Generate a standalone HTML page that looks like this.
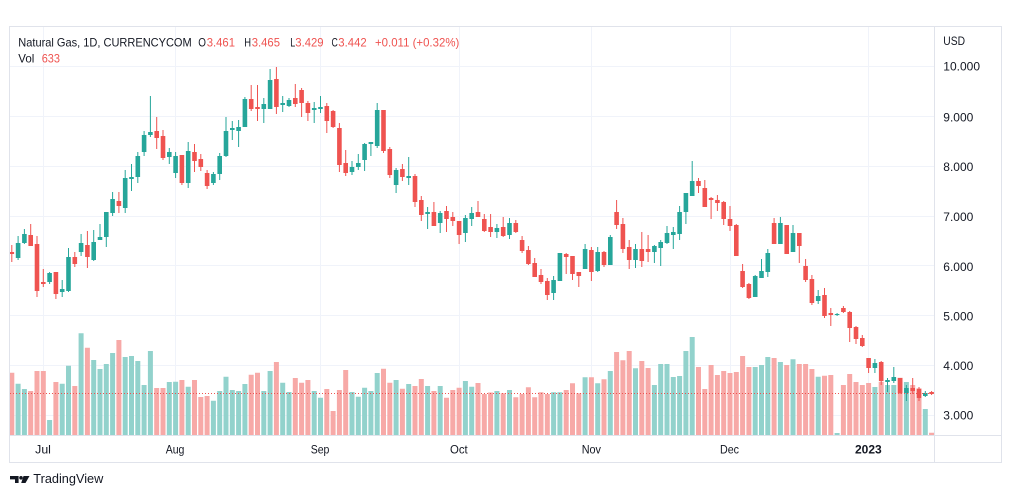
<!DOCTYPE html>
<html><head><meta charset="utf-8"><style>
html,body{margin:0;padding:0;background:#fff;width:1012px;height:498px;overflow:hidden}
svg{display:block}
text{font-family:"Liberation Sans",Arial,sans-serif}
</style></head><body>
<svg width="1012" height="498" viewBox="0 0 1012 498" xmlns="http://www.w3.org/2000/svg">
<defs><clipPath id="pc"><rect x="10" y="27" width="924" height="408"/></clipPath></defs>
<rect x="0" y="0" width="1012" height="498" fill="#fff"/>
<!-- grid -->
<g fill="#f0f3fa">
<rect x="10" y="66" width="924" height="1"/><rect x="10" y="116" width="924" height="1"/><rect x="10" y="166" width="924" height="1"/><rect x="10" y="216" width="924" height="1"/><rect x="10" y="265" width="924" height="1"/><rect x="10" y="315" width="924" height="1"/><rect x="10" y="365" width="924" height="1"/><rect x="10" y="415" width="924" height="1"/>
<rect x="43" y="27" width="1" height="408"/><rect x="175" y="27" width="1" height="408"/><rect x="320" y="27" width="1" height="408"/><rect x="459" y="27" width="1" height="408"/><rect x="591" y="27" width="1" height="408"/><rect x="730" y="27" width="1" height="408"/><rect x="868" y="27" width="1" height="408"/>
</g>
<g clip-path="url(#pc)">
<!-- volume green -->
<path fill="#92d2cc" d="M15.6 435V383.7h5V435zM21.9 435V389h5V435zM47.1 435V420h5V435zM59.7 435V383.7h5V435zM66 435V365.7h5V435zM78.6 435V333.3h5V435zM91.2 435V360h5V435zM97.5 435V369h5V435zM103.8 435V364h5V435zM110.1 435V353h5V435zM122.7 435V357h5V435zM129 435V356h5V435zM135.3 435V361h5V435zM141.6 435V385h5V435zM147.9 435V351h5V435zM166.8 435V382h5V435zM173.1 435V381.7h5V435zM185.7 435V386.7h5V435zM210.9 435V400.7h5V435zM217.2 435V391h5V435zM223.5 435V376.7h5V435zM229.8 435V390h5V435zM236.1 435V391h5V435zM242.4 435V384h5V435zM261.3 435V391h5V435zM267.6 435V371h5V435zM280.2 435V382.7h5V435zM286.5 435V392h5V435zM311.7 435V391h5V435zM318 435V397.7h5V435zM349.5 435V392h5V435zM355.8 435V396.7h5V435zM362.1 435V387.7h5V435zM368.4 435V391h5V435zM374.7 435V373h5V435zM393.6 435V380h5V435zM406.2 435V384h5V435zM425.1 435V386h5V435zM437.7 435V386h5V435zM462.9 435V381h5V435zM469.2 435V386.7h5V435zM494.4 435V391h5V435zM507 435V390h5V435zM551.1 435V392.3h5V435zM557.4 435V392.3h5V435zM582.6 435V377.3h5V435zM595.2 435V383.3h5V435zM607.8 435V371h5V435zM633 435V368.3h5V435zM651.9 435V385h5V435zM658.2 435V364h5V435zM664.5 435V364h5V435zM670.8 435V377h5V435zM677.1 435V376h5V435zM683.4 435V351h5V435zM689.7 435V337h5V435zM752.7 435V367h5V435zM759 435V365h5V435zM765.3 435V357h5V435zM777.9 435V362h5V435zM790.5 435V359.3h5V435zM815.7 435V376.7h5V435zM834.6 435V433h5V435zM872.4 435V387h5V435zM885 435V385h5V435zM891.3 435V385h5V435zM903.9 435V382h5V435zM922.8 435V409h5V435z"/>
<!-- volume red -->
<path fill="#f7a9a7" d="M9.3 435V372.7h5V435zM28.2 435V391h5V435zM34.5 435V371h5V435zM40.8 435V371h5V435zM53.4 435V382h5V435zM72.3 435V386h5V435zM84.9 435V347.7h5V435zM116.4 435V340h5V435zM154.2 435V388h5V435zM160.5 435V388h5V435zM179.4 435V380h5V435zM192 435V380h5V435zM198.3 435V397h5V435zM204.6 435V396h5V435zM248.7 435V374.7h5V435zM255 435V372.7h5V435zM273.9 435V362h5V435zM292.8 435V378h5V435zM299.1 435V382.7h5V435zM305.4 435V380h5V435zM324.3 435V389h5V435zM330.6 435V411h5V435zM336.9 435V390h5V435zM343.2 435V370h5V435zM381 435V368.7h5V435zM387.3 435V382.7h5V435zM399.9 435V388.7h5V435zM412.5 435V386h5V435zM418.8 435V379h5V435zM431.4 435V391h5V435zM444 435V397.7h5V435zM450.3 435V390h5V435zM456.6 435V387.7h5V435zM475.5 435V383h5V435zM481.8 435V394h5V435zM488.1 435V392.5h5V435zM500.7 435V393.3h5V435zM513.3 435V397.3h5V435zM519.6 435V394h5V435zM525.9 435V387.3h5V435zM532.2 435V397.3h5V435zM538.5 435V392.3h5V435zM544.8 435V394h5V435zM563.7 435V390h5V435zM570 435V383.3h5V435zM576.3 435V393.3h5V435zM588.9 435V377.3h5V435zM601.5 435V379.3h5V435zM614.1 435V352h5V435zM620.4 435V360.3h5V435zM626.7 435V351h5V435zM639.3 435V361h5V435zM645.6 435V368h5V435zM696 435V367h5V435zM702.3 435V389h5V435zM708.6 435V365h5V435zM714.9 435V375h5V435zM721.2 435V371h5V435zM727.5 435V373h5V435zM733.8 435V372h5V435zM740.1 435V356h5V435zM746.4 435V367h5V435zM771.6 435V358h5V435zM784.2 435V365h5V435zM796.8 435V364h5V435zM803.1 435V364h5V435zM809.4 435V369h5V435zM822 435V375.7h5V435zM828.3 435V375h5V435zM840.9 435V385h5V435zM847.2 435V374h5V435zM853.5 435V382h5V435zM859.8 435V385h5V435zM866.1 435V383h5V435zM878.7 435V381.7h5V435zM897.6 435V377.7h5V435zM910.2 435V385h5V435zM916.5 435V388.3h5V435zM929.1 435V432.7h5V435z"/>
<!-- green wicks -->
<path stroke="#26a69a" stroke-width="1" fill="none" d="M18.1 236V260M24.4 229V244M49.6 272V284M62.2 280V297M68.5 248V292M81.1 234V256M93.7 230V261M100 224V240M106.3 212V247M112.6 192V216M125.2 170V213M131.5 164V191M137.8 152V183M144.1 131V156M150.4 96V137M169.3 148V164M175.6 152V178M188.2 142V188M213.4 172V185M219.7 153V180M226 117V157M232.3 121V140M238.6 120V147M244.9 97V127M263.8 98V123M270.1 69V109M282.7 96V112M289 98V107M314.2 102V123M320.5 96V113M352 161V175M358.3 154V170M364.6 143V171M370.9 142V156M377.2 103V148M396.1 168V193M408.7 157V185M427.6 207V229M440.2 211V233M465.4 215V242M471.7 207V226M496.9 224V238M509.5 218V239M553.6 276V300M559.9 253V281M585.1 244V269M597.7 247V272M610.3 235V265M635.5 244V268M654.4 245V263M660.7 240V266M667 226V244M673.3 227V249M679.6 206V240M685.9 193V224M692.2 161V196M755.2 275V297M761.5 259V278M767.8 249V277M780.4 217V244M793 225V252M818.2 290V304M837.1 313V316M874.9 359V373M887.5 378V392M893.8 367V383M906.4 385V401M925.3 391V397"/>
<!-- green bodies -->
<path fill="#26a69a" d="M15.8 243h4.6V258h-4.6zM22.1 234h4.6V243h-4.6zM47.3 273h4.6V282h-4.6zM59.9 289h4.6V292h-4.6zM66.2 257h4.6V291h-4.6zM78.8 243h4.6V252h-4.6zM91.4 242h4.6V260h-4.6zM97.7 237h4.6V240h-4.6zM104 212h4.6V237h-4.6zM110.3 199h4.6V213h-4.6zM122.9 178h4.6V208h-4.6zM129.2 177h4.6V179h-4.6zM135.5 156h4.6V177h-4.6zM141.8 135h4.6V152h-4.6zM148.1 132h4.6V135h-4.6zM167 152h4.6V157h-4.6zM173.3 156h4.6V173h-4.6zM185.9 151h4.6V183h-4.6zM211.1 174h4.6V183h-4.6zM217.4 156h4.6V174h-4.6zM223.7 131h4.6V156h-4.6zM230 128h4.6V130h-4.6zM236.3 127h4.6V131h-4.6zM242.6 99h4.6V127h-4.6zM261.5 104h4.6V109h-4.6zM267.8 80h4.6V109h-4.6zM280.4 103h4.6V105h-4.6zM286.7 100h4.6V106h-4.6zM311.9 108h4.6V110h-4.6zM318.2 107h4.6V109h-4.6zM349.7 167h4.6V172h-4.6zM356 163h4.6V167h-4.6zM362.3 144h4.6V160h-4.6zM368.6 142h4.6V144h-4.6zM374.9 110h4.6V146h-4.6zM393.8 170h4.6V185h-4.6zM406.4 176h4.6V178h-4.6zM425.3 212h4.6V214h-4.6zM437.9 213h4.6V223h-4.6zM463.1 218h4.6V233h-4.6zM469.4 213h4.6V219h-4.6zM494.6 228h4.6V232h-4.6zM507.2 223h4.6V235h-4.6zM551.3 280h4.6V293h-4.6zM557.6 253h4.6V281h-4.6zM582.8 249h4.6V269h-4.6zM595.4 252h4.6V271h-4.6zM608 237h4.6V265h-4.6zM633.2 249h4.6V260h-4.6zM652.1 246h4.6V252h-4.6zM658.4 242h4.6V248h-4.6zM664.7 233h4.6V243h-4.6zM671 232h4.6V235h-4.6zM677.3 212h4.6V234h-4.6zM683.6 193h4.6V212h-4.6zM689.9 181h4.6V196h-4.6zM752.9 276h4.6V297h-4.6zM759.2 271h4.6V278h-4.6zM765.5 253h4.6V272h-4.6zM778.1 223h4.6V244h-4.6zM790.7 233h4.6V252h-4.6zM815.9 296h4.6V301h-4.6zM834.8 314h4.6V315h-4.6zM872.6 363h4.6V368h-4.6zM885.2 380h4.6V382h-4.6zM891.5 377h4.6V381h-4.6zM904.1 388h4.6V393h-4.6zM923 393h4.6V396h-4.6z"/>
<!-- red wicks -->
<path stroke="#ef5350" stroke-width="1" fill="none" d="M11.8 245V262M30.7 224V246M37 236V297M43.3 269V287M55.9 272V299M74.8 252V267M87.4 231V268M118.9 192V213M156.7 117V149M163 130V160M181.9 155V185M194.5 144V172M200.8 154V171M207.1 170V189M251.2 85V111M257.5 85V121M276.4 67V114M295.3 84V107M301.6 88V117M307.9 101V121M326.8 103V133M333.1 110V128M339.4 123V172M345.7 150V176M383.5 110V153M389.8 147V178M402.4 164V181M415 174V207M421.3 196V221M433.9 202V226M446.5 206V232M452.8 212V226M459.1 221V244M478 201V217M484.3 214V232M490.6 214V237M503.2 217V237M515.8 220V233M522.1 236V253M528.4 246V265M534.7 258V277M541 269V284M547.3 278V300M566.2 253V274M572.5 256V280M578.8 272V287M591.4 247V281M604 251V267M616.6 200V229M622.9 218V253M629.2 240V269M641.8 232V267M648.1 235V262M698.5 178V193M704.8 180V207M711.1 197V219M717.4 195V211M723.7 201V225M730 206V231M736.3 224V256M742.6 264V288M748.9 283V299M774.1 218V244M786.7 225V254M799.3 233V263M805.6 259V282M811.9 275V305M824.5 288V318M830.8 308V326M843.4 306V313M849.7 311V342M856 326V344M862.3 335V347M868.6 358V373M881.2 361V385M900.1 378V394M912.7 378V394M919 387V401M931.6 391V395"/>
<!-- red bodies -->
<path fill="#ef5350" d="M9.5 252h4.6V254h-4.6zM28.4 235h4.6V246h-4.6zM34.7 244h4.6V291h-4.6zM41 282h4.6V284h-4.6zM53.6 272h4.6V294h-4.6zM72.5 257h4.6V264h-4.6zM85.1 245h4.6V257h-4.6zM116.6 201h4.6V206h-4.6zM154.4 131h4.6V138h-4.6zM160.7 136h4.6V158h-4.6zM179.6 155h4.6V183h-4.6zM192.2 152h4.6V161h-4.6zM198.5 159h4.6V167h-4.6zM204.8 173h4.6V186h-4.6zM248.9 99h4.6V109h-4.6zM255.2 107h4.6V109h-4.6zM274.1 79h4.6V107h-4.6zM293 98h4.6V104h-4.6zM299.3 90h4.6V103h-4.6zM305.6 103h4.6V113h-4.6zM324.5 106h4.6V121h-4.6zM330.8 111h4.6V127h-4.6zM337.1 128h4.6V165h-4.6zM343.4 163h4.6V173h-4.6zM381.2 110h4.6V151h-4.6zM387.5 149h4.6V175h-4.6zM400.1 169h4.6V177h-4.6zM412.7 176h4.6V202h-4.6zM419 200h4.6V215h-4.6zM431.6 212h4.6V226h-4.6zM444.2 211h4.6V219h-4.6zM450.5 217h4.6V221h-4.6zM456.8 221h4.6V235h-4.6zM475.7 212h4.6V217h-4.6zM482 219h4.6V231h-4.6zM488.3 227h4.6V232h-4.6zM500.9 227h4.6V236h-4.6zM513.5 223h4.6V232h-4.6zM519.8 240h4.6V251h-4.6zM526.1 250h4.6V264h-4.6zM532.4 263h4.6V277h-4.6zM538.7 275h4.6V282h-4.6zM545 281h4.6V295h-4.6zM563.9 254h4.6V257h-4.6zM570.2 256h4.6V274h-4.6zM576.5 272h4.6V276h-4.6zM589.1 250h4.6V272h-4.6zM601.7 252h4.6V265h-4.6zM614.3 212h4.6V225h-4.6zM620.6 224h4.6V249h-4.6zM626.9 247h4.6V260h-4.6zM639.5 249h4.6V261h-4.6zM645.8 249h4.6V252h-4.6zM696.2 181h4.6V186h-4.6zM702.5 188h4.6V207h-4.6zM708.8 198h4.6V200h-4.6zM715.1 200h4.6V203h-4.6zM721.4 202h4.6V219h-4.6zM727.7 219h4.6V226h-4.6zM734 225h4.6V256h-4.6zM740.3 271h4.6V287h-4.6zM746.6 284h4.6V298h-4.6zM771.8 223h4.6V244h-4.6zM784.4 225h4.6V254h-4.6zM797 233h4.6V246h-4.6zM803.3 266h4.6V280h-4.6zM809.6 279h4.6V303h-4.6zM822.2 295h4.6V316h-4.6zM828.5 313h4.6V315h-4.6zM841.1 308h4.6V312h-4.6zM847.4 312h4.6V328h-4.6zM853.7 327h4.6V339h-4.6zM860 338h4.6V346h-4.6zM866.3 358h4.6V368h-4.6zM878.9 362h4.6V381h-4.6zM897.8 378h4.6V393h-4.6zM910.4 388h4.6V391h-4.6zM916.7 389h4.6V398h-4.6zM929.3 392h4.6V394h-4.6z"/>
<!-- last price line -->
<line x1="10" y1="393.5" x2="934" y2="393.5" stroke="#ef5350" stroke-width="1" stroke-dasharray="1 2"/>
</g>
<!-- frame & axes -->
<rect x="9.5" y="26.5" width="992" height="436" fill="none" stroke="#e0e3eb" stroke-width="1"/>
<line x1="934.5" y1="26" x2="934.5" y2="463" stroke="#e0e3eb" stroke-width="1"/>
<line x1="9" y1="435.5" x2="1002" y2="435.5" stroke="#e0e3eb" stroke-width="1"/>
<!-- legend -->
<g font-size="12" fill="#131722">
<text x="18.3" y="46.7" textLength="173.4" lengthAdjust="spacingAndGlyphs">Natural Gas, 1D, CURRENCYCOM</text>
<text x="198.3" y="46.7" textLength="7.7" lengthAdjust="spacingAndGlyphs">O</text>
<text x="244.3" y="46.7" textLength="6.8" lengthAdjust="spacingAndGlyphs">H</text>
<text x="290.3" y="46.7" textLength="5" lengthAdjust="spacingAndGlyphs">L</text>
<text x="331.5" y="46.7" textLength="6.3" lengthAdjust="spacingAndGlyphs">C</text>
<text x="18.3" y="62.7" textLength="16" lengthAdjust="spacingAndGlyphs">Vol</text>
</g>
<g font-size="12" fill="#ef5350">
<text x="206.7" y="46.7" textLength="28.3" lengthAdjust="spacingAndGlyphs">3.461</text>
<text x="251.7" y="46.7" textLength="28.3" lengthAdjust="spacingAndGlyphs">3.465</text>
<text x="295.3" y="46.7" textLength="28.3" lengthAdjust="spacingAndGlyphs">3.429</text>
<text x="338.3" y="46.7" textLength="28.4" lengthAdjust="spacingAndGlyphs">3.442</text>
<text x="375" y="46.7" textLength="84.3" lengthAdjust="spacingAndGlyphs">+0.011 (+0.32%)</text>
<text x="41.7" y="62.7" textLength="18.3" lengthAdjust="spacingAndGlyphs">633</text>
</g>
<!-- price axis -->
<g font-size="12" fill="#131722">
<text x="943.3" y="45" textLength="21.7" lengthAdjust="spacingAndGlyphs">USD</text>
<text x="943.3" y="70.5" textLength="36.7" lengthAdjust="spacingAndGlyphs">10.000</text>
<text x="943.3" y="121.3" textLength="30" lengthAdjust="spacingAndGlyphs">9.000</text>
<text x="943.3" y="171" textLength="30" lengthAdjust="spacingAndGlyphs">8.000</text>
<text x="943.3" y="221" textLength="30" lengthAdjust="spacingAndGlyphs">7.000</text>
<text x="943.3" y="270.8" textLength="30" lengthAdjust="spacingAndGlyphs">6.000</text>
<text x="943.3" y="320.5" textLength="30" lengthAdjust="spacingAndGlyphs">5.000</text>
<text x="943.3" y="370.2" textLength="30" lengthAdjust="spacingAndGlyphs">4.000</text>
<text x="943.3" y="419.5" textLength="30" lengthAdjust="spacingAndGlyphs">3.000</text>
</g>
<!-- time axis -->
<g font-size="12" fill="#131722">
<text x="35.2" y="453.3" textLength="15.7" lengthAdjust="spacingAndGlyphs">Jul</text>
<text x="165.7" y="453.3" textLength="18.7" lengthAdjust="spacingAndGlyphs">Aug</text>
<text x="310.7" y="453.3" textLength="18.7" lengthAdjust="spacingAndGlyphs">Sep</text>
<text x="450" y="453.3" textLength="17.7" lengthAdjust="spacingAndGlyphs">Oct</text>
<text x="581.7" y="453.3" textLength="19.3" lengthAdjust="spacingAndGlyphs">Nov</text>
<text x="720" y="453.3" textLength="19" lengthAdjust="spacingAndGlyphs">Dec</text>
<text x="855" y="453.3" textLength="26.7" lengthAdjust="spacingAndGlyphs" font-weight="bold">2023</text>
</g>
<!-- TradingView logo -->
<g fill="#131722">
<path d="M10 476h8.6v7h-3.6v-3.6h-5z"/>
<circle cx="21" cy="477.8" r="1.8"/>
<path d="M23.5 476h6l-4 7h-4.3z"/>
</g>
<text x="33.3" y="483" font-size="13" fill="#131722" textLength="70" lengthAdjust="spacingAndGlyphs">TradingView</text>
</svg>
</body></html>
